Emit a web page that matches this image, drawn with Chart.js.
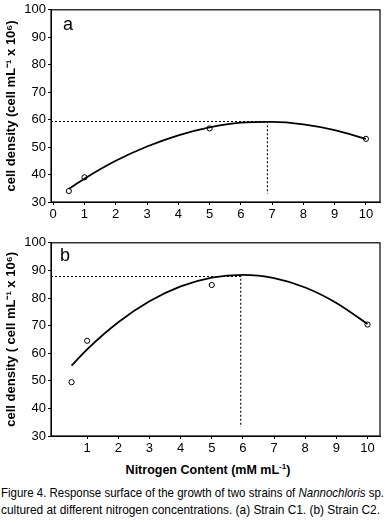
<!DOCTYPE html>
<html>
<head>
<meta charset="utf-8">
<script src="https://cdn.jsdelivr.net/npm/chart.js@4.4.1/dist/chart.umd.min.js"></script>
<style>
  html, body { margin: 0; padding: 0; background: #fff; }
  body { width: 385px; height: 526px; position: relative; overflow: hidden; font-family: "Liberation Sans", Arial, sans-serif; color: #000; }
  .cv { position: absolute; left: 0; }
  .panel { position: absolute; font-size: 18px; font-family: "Liberation Sans", Arial, sans-serif; }
  #xtitle { position: absolute; left: 0; width: 416px; text-align: center; top: 462px; font-weight: bold; font-size: 12.5px; }
  .cap { position: absolute; left: 1px; font-family: "Liberation Sans", Arial, sans-serif; font-size: 13px; white-space: nowrap; transform-origin: 0 0; display: inline-block; }
</style>
</head>
<body>
<canvas id="ca" class="cv" width="385" height="222" style="top:0px"></canvas>
<canvas id="cb" class="cv" width="385" height="223" style="top:233px"></canvas>
<div class="panel" style="left:63px;top:14px">a</div>
<div class="panel" style="left:60px;top:245px">b</div>
<div id="xtitle">Nitrogen Content (mM mL<sup style="font-size:8px">-1</sup>)</div>
<span class="cap" id="cap1" data-w="383" style="top:485px">Figure 4. Response surface of the growth of two strains of <i>Nannochloris</i> sp.</span>
<span class="cap" id="cap2" data-w="379" style="top:502px">cultured at different nitrogen concentrations. (a) Strain C1. (b) Strain C2.</span>
<script>
// ---- data ----
const nitrogen = [0.5, 1, 5, 10];
const densityA = [34, 39, 56.8, 53];
const densityB = [49.5, 64.5, 84.7, 70.4];

const fitX = [0.5, 1, 2, 3, 4, 5, 6, 7, 8, 9, 10];
const fitA = [34.8, 38.5, 45.0, 50.2, 54.3, 57.2, 58.9, 59.2, 58.3, 56.2, 53.0];
const fitB = [55.5, 61.4, 71.2, 78.8, 84.2, 87.4, 88.4, 87.2, 83.8, 78.2, 70.6];

const optimumA = { x: 6.85, y: 59.3, floor: 33 };
const optimumB = { x: 5.93, y: 87.8, floor: 33.3 };

const yTicks = [30, 40, 50, 60, 70, 80, 90, 100];
const xTicksA = [0, 1, 2, 3, 4, 5, 6, 7, 8, 9, 10];
const xTicksB = [1, 2, 3, 4, 5, 6, 7, 8, 9, 10];

const yTitleA = 'cell density (cell mL\u207B\u00B9 x 10\u2076)';
const yTitleB = 'cell density ( cell mL\u207B\u00B9 x 10\u2076)';

// caption fitting to the reference line widths (condensed look)
document.querySelectorAll('.cap').forEach(el => {
  const w = el.getBoundingClientRect().width;
  el.style.transform = 'scaleX(' + (parseFloat(el.dataset.w) / w) + ')';
});

// ---- chart builder ----
const boxPlugin = {
  id: 'box',
  afterDatasetsDraw(chart) {
    const a = chart.chartArea, ctx = chart.ctx;
    ctx.save();
    ctx.strokeStyle = '#000';
    ctx.lineWidth = 1.2;
    ctx.strokeRect(a.left, a.top, a.right - a.left, a.bottom - a.top);
    ctx.restore();
  }
};

function makeChart(id, pts, fit, opt, xTicks, xMin, xMax, yTitle) {
  const pointData = nitrogen.map((x, i) => ({ x, y: pts[i] }));
  const fitData = fitX.map((x, i) => ({ x, y: fit[i] }));
  const guide = [{ x: xMin, y: opt.y }, { x: opt.x, y: opt.y }, { x: opt.x, y: opt.floor }];
  return new Chart(document.getElementById(id), {
    type: 'scatter',
    data: {
      datasets: [
        { data: guide, showLine: true, borderColor: '#000', borderWidth: 1.1, borderDash: [2, 2], pointRadius: 0, tension: 0 },
        { data: fitData, showLine: true, borderColor: '#000', borderWidth: 1.8, pointRadius: 0, cubicInterpolationMode: 'monotone' },
        { data: pointData, showLine: false, pointRadius: 2.6, pointBorderWidth: 1, pointBorderColor: '#000', pointBackgroundColor: '#fff' }
      ]
    },
    options: {
      responsive: false,
      animation: false,
      layout: { padding: { top: 5, right: 5, left: 0, bottom: 0 } },
      plugins: { legend: { display: false }, tooltip: { enabled: false } },
      scales: {
        x: {
          type: 'linear', min: xMin, max: xMax,
          afterBuildTicks: s => { s.ticks = xTicks.map(v => ({ value: v })); },
          afterFit: s => { s.height = 20; },
          grid: { display: true, drawOnChartArea: false, drawTicks: true, tickLength: 3, color: '#000' },
          border: { display: true, color: '#000', width: 1 },
          ticks: { color: '#000', padding: 2, maxRotation: 0, autoSkip: false, font: { family: 'Liberation Sans', size: 13 } }
        },
        y: {
          type: 'linear', min: 30, max: 100,
          afterBuildTicks: s => { s.ticks = yTicks.map(v => ({ value: v })); },
          afterFit: s => { s.width = 51; },
          grid: { display: true, drawOnChartArea: false, drawTicks: true, tickLength: 3, color: '#000' },
          border: { display: true, color: '#000', width: 1 },
          ticks: { color: '#000', padding: 2, font: { family: 'Liberation Sans', size: 13 } },
          title: { display: true, text: yTitle, color: '#000', padding: { top: 4, bottom: 2 }, font: { family: 'Liberation Sans', size: 13, weight: 'bold' } }
        }
      }
    },
    plugins: [boxPlugin]
  });
}

makeChart('ca', densityA, fitA, optimumA, xTicksA, -0.07, 10.45, yTitleA);
makeChart('cb', densityB, fitB, optimumB, xTicksB, -0.16, 10.4, yTitleB);
</script>
</body>
</html>
